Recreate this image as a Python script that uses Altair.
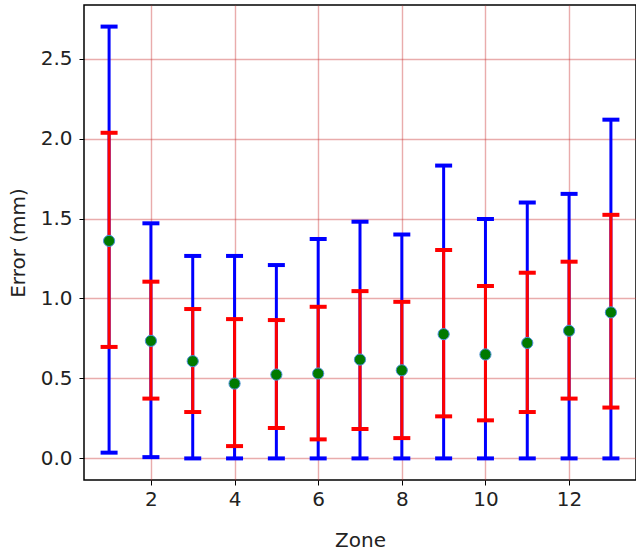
import altair as alt
import pandas as pd

zones = list(range(1, 14))
means = [1.36, 0.735, 0.608, 0.468, 0.524, 0.531, 0.618, 0.551, 0.777, 0.650, 0.722, 0.798, 0.913]
red_low = [0.697, 0.374, 0.290, 0.077, 0.190, 0.119, 0.184, 0.127, 0.263, 0.238, 0.290, 0.374, 0.318]
red_high = [2.036, 1.105, 0.934, 0.871, 0.865, 0.948, 1.046, 0.979, 1.303, 1.078, 1.161, 1.230, 1.523]
blue_low = [0.036, 0.008, 0.0, 0.0, 0.0, 0.0, 0.0, 0.0, 0.0, 0.0, 0.0, 0.0, 0.0]
blue_high = [2.700, 1.470, 1.266, 1.266, 1.209, 1.372, 1.480, 1.400, 1.831, 1.497, 1.600, 1.654, 2.118]

df = pd.DataFrame({
    "zone": zones, "mean": means,
    "rlo": red_low, "rhi": red_high,
    "blo": blue_low, "bhi": blue_high,
})

FONT = "DejaVu Sans"
xs = alt.Scale(domain=[0.4, 13.6], nice=False, zero=False)
ys = alt.Scale(domain=[-0.135, 2.835], nice=False, zero=False)

GRID = dict(grid=True, gridColor="#c83030", gridOpacity=0.4, gridWidth=1.4)

xaxis = alt.Axis(values=[2, 4, 6, 8, 10, 12], title="Zone", format="d",
                 domain=False, tickColor="#000", tickSize=5, tickWidth=1,
                 labelFont=FONT, labelFontSize=20, labelColor="#222", labelPadding=4,
                 titleFont=FONT, titleFontSize=20, titleFontWeight="normal",
                 titleColor="#222", titlePadding=21, **GRID)
yaxis = alt.Axis(values=[0, 0.5, 1.0, 1.5, 2.0, 2.5], title="Error (mm)", format=".1f",
                 domain=False, tickColor="#000", tickSize=5, tickWidth=1,
                 labelFont=FONT, labelFontSize=20, labelColor="#222", labelPadding=7,
                 titleFont=FONT, titleFontSize=20, titleFontWeight="normal",
                 titleColor="#222", titlePadding=12, **GRID)

base = alt.Chart(df)

x = alt.X("zone:Q", scale=xs, axis=xaxis)


def caps(col, color):
    return base.mark_tick(color=color, thickness=4, size=17, orient="horizontal", opacity=1).encode(
        x=alt.X("zone:Q", scale=xs), y=alt.Y(f"{col}:Q", scale=ys))


blue_rule = base.mark_rule(color="#0000ff", strokeWidth=3).encode(
    x=x, y=alt.Y("blo:Q", scale=ys, axis=yaxis), y2="bhi:Q")
red_rule = base.mark_rule(color="#ff0000", strokeWidth=3).encode(
    x=alt.X("zone:Q", scale=xs), y=alt.Y("rlo:Q", scale=ys), y2="rhi:Q")

pts = base.mark_point(filled=True, shape="circle", size=125, color="#007a00",
                      stroke="#4a90d9", strokeWidth=1, opacity=1).encode(
    x=alt.X("zone:Q", scale=xs), y=alt.Y("mean:Q", scale=ys))

chart = alt.layer(
    blue_rule, caps("blo", "#0000ff"), caps("bhi", "#0000ff"),
    red_rule, caps("rlo", "#ff0000"), caps("rhi", "#ff0000"), pts
).properties(
    width=552, height=475,
    padding={"left": 84, "top": 5, "right": 0, "bottom": 78},
    autosize=alt.AutoSizeParams(type="none"),
    background="white",
).configure_view(stroke="#000", strokeWidth=1.5)

chart.save("out.html", embed_options={"renderer": "svg", "actions": False})
